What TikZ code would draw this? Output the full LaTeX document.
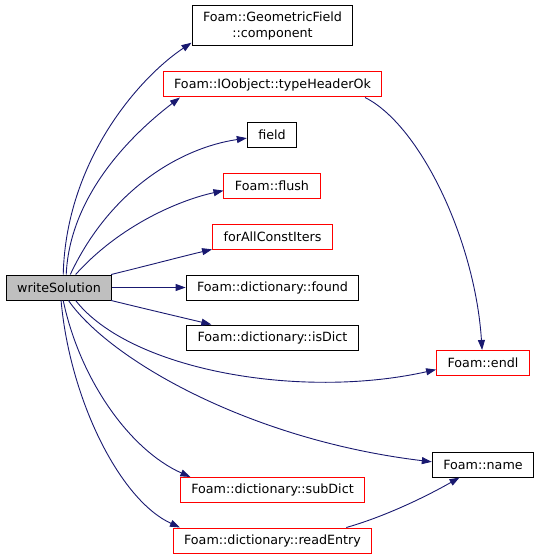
\documentclass[tikz,border=0pt]{standalone}
\usepackage{fontspec}
\setmainfont{DejaVu Sans}
\usetikzlibrary{arrows.meta}
\definecolor{edgeblue}{HTML}{191970}

\begin{document}
\begin{tikzpicture}[x=1pt,y=-1pt,
  fn/.style={draw=black,fill=white,line width=1pt,minimum height=25pt,inner xsep=11pt,font=\fontsize{12.7}{16}\selectfont},
  trunc/.style={fn,draw=red},
  root/.style={fn,fill=black!25},
  call/.style={draw=edgeblue,line width=0.9pt,-{Triangle[length=10pt,width=7pt]}}]
\useasboundingbox (0,0) rectangle (540,559);
\node[root] (ws) at (59,287.5) {writeSolution};
\node[fn,minimum height=40pt,align=center] (comp) at (272.5,25.5) {Foam::GeometricField\\::component};
\node[trunc] (thok) at (272.5,84.5) {Foam::IOobject::typeHeaderOk};
\node[fn] (field) at (272,135) {field};
\node[trunc] (flush) at (272,185.5) {Foam::flush};
\node[trunc] (fac) at (272.5,236.5) {forAllConstIters};
\node[fn] (found) at (272.5,287.5) {Foam::dictionary::found};
\node[fn] (isdict) at (272.5,337.5) {Foam::dictionary::isDict};
\node[trunc] (endl) at (483,363) {Foam::endl};
\node[fn] (name) at (483,464.5) {Foam::name};
\node[trunc] (subdict) at (272.5,490) {Foam::dictionary::subDict};
\node[trunc] (readentry) at (272.5,540.5) {Foam::dictionary::readEntry};
\draw[call] (ws.72) .. controls (66,160) and (140,77) .. (comp.192);
\draw[call] (ws.61) .. controls (70,190) and (140,128) .. (thok.188);
\draw[call] (ws.49) .. controls (110,190) and (180,148) .. (field.187);
\draw[call] (ws.38) .. controls (120,225) and (180,200) .. (flush.186);
\draw[call] (ws.14) .. controls (150,265) and (180,257) .. (fac.192);
\draw[call] (ws.east) -- (found.west);
\draw[call] (ws.-14) .. controls (150,310) and (180,317) .. (isdict.168);
\draw[call] (ws.-38) .. controls (130,370) and (300,400) .. (endl.188);
\draw[call] (ws.-54) .. controls (110,360) and (250,440) .. (name.177);
\draw[call] (ws.-72) .. controls (80,380) and (130,450) .. (subdict.171);
\draw[call] (ws.-81) .. controls (70,400) and (120,500) .. (readentry.172);
\draw[call] (thok.-8) .. controls (420,125) and (475,240) .. (endl.94);
\draw[call] (readentry.10) .. controls (380,518) and (420,500) .. (name.209);
\end{tikzpicture}
\end{document}
